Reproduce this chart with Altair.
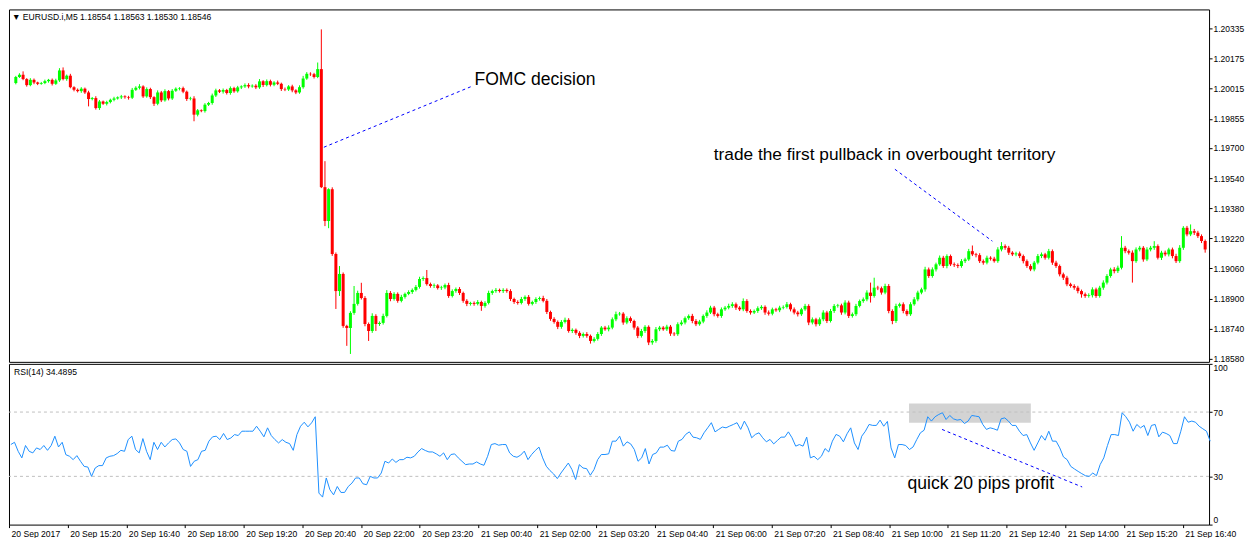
import altair as alt
import numpy as np
import pandas as pd

# ---------------- data ----------------
START = "2017-09-20 14:00"          # first M5 bar
BAR_MIN = 5
PRICE_BASE = 1.18000                 # prices below are in points (1e-5) above this base
OPEN_FIRST = 2045

CLOSE = [
    2077, 2089, 2066, 2034, 2062, 2048, 2041, 2045, 2055, 2062, 2041, 2059, 2112, 2066, 2084, 2023, 2009, 2002, 2015, 1995,
    1960, 1965, 1912, 1947, 1935, 1944, 1956, 1963, 1969, 1974, 1970, 1967, 2009, 2020, 2027, 1974, 2013, 1970, 1935, 1995,
    1953, 2002, 1963, 2004, 2015, 2018, 1999, 1960, 1963, 1877, 1900, 1896, 1930, 1939, 1979, 2006, 1999, 2008, 1992, 2018,
    2001, 2022, 2027, 2034, 2027, 2031, 2022, 2054, 2034, 2055, 2036, 2048, 2041, 2013, 2011, 2027, 2006, 1995, 2023, 2069,
    2094, 2092, 2077, 2119, 1492, 1312, 1481, 1137, 940, 1031, 755, 744, 824, 872, 930, 903, 765, 728, 808, 765,
    771, 808, 930, 898, 925, 888, 909, 925, 935, 946, 962, 1004, 1009, 977, 967, 970, 956, 959, 972, 914,
    940, 951, 930, 888, 872, 877, 872, 882, 861, 877, 930, 940, 946, 940, 946, 940, 898, 882, 877, 898,
    909, 872, 882, 898, 903, 888, 829, 792, 776, 750, 776, 787, 728, 734, 718, 702, 712, 702, 675, 686,
    712, 746, 737, 746, 790, 817, 820, 773, 796, 781, 746, 702, 728, 750, 667, 675, 737, 746, 737, 751,
    714, 711, 764, 773, 796, 808, 781, 764, 778, 808, 826, 852, 817, 808, 843, 852, 861, 870, 852, 843,
    887, 834, 826, 834, 849, 856, 826, 820, 843, 838, 852, 855, 870, 843, 826, 817, 843, 861, 773, 790,
    764, 790, 826, 781, 834, 861, 864, 826, 879, 808, 817, 861, 887, 896, 932, 914, 958, 955, 932, 967,
    834, 781, 861, 870, 834, 817, 870, 896, 932, 949, 1055, 1020, 1055, 1082, 1117, 1073, 1126, 1082, 1078, 1073,
    1099, 1108, 1152, 1135, 1131, 1099, 1091, 1117, 1112, 1099, 1161, 1179, 1170, 1144, 1135, 1140, 1126, 1099, 1073, 1055,
    1091, 1126, 1135, 1117, 1152, 1091, 1073, 1029, 1011, 976, 967, 958, 940, 923, 914, 918, 949, 914, 958, 985,
    1020, 1055, 1046, 1064, 1170, 1152, 1144, 1099, 1161, 1170, 1108, 1161, 1170, 1179, 1117, 1144, 1135, 1161, 1126, 1099,
    1170, 1276, 1241, 1258, 1250, 1232, 1206, 1161,
]

UPPER = [  # upper wick above the body, points
    6, 8, 18, 5, 9, 7, 4, 6, 8, 5, 7, 9, 12, 16, 6, 10, 5, 7, 8, 6,
    9, 6, 10, 8, 5, 7, 6, 9, 5, 8, 6, 7, 10, 8, 12, 6, 9, 7, 5, 11,
    8, 10, 6, 9, 7, 5, 8, 6, 9, 12, 7, 5, 8, 6, 10, 9, 7, 8, 6, 9,
    7, 8, 6, 9, 10, 7, 8, 12, 6, 9, 8, 7, 10, 6, 8, 7, 9, 6, 10, 14,
    9, 8, 7, 35, 211, 138, 5, 10, 8, 42, 8, 6, 9, 95, 12, 54, 10, 8, 14, 9,
    8, 12, 15, 10, 9, 8, 11, 7, 9, 8, 10, 12, 9, 43, 8, 10, 7, 9, 8, 12,
    9, 8, 10, 7, 9, 6, 8, 10, 7, 9, 12, 8, 10, 7, 9, 8, 10, 7, 9, 11,
    8, 10, 7, 9, 8, 12, 10, 7, 9, 8, 10, 12, 9, 8, 7, 9, 8, 10, 7, 9,
    10, 8, 9, 12, 10, 14, 9, 8, 10, 9, 7, 8, 11, 9, 8, 10, 12, 9, 8, 10,
    9, 8, 10, 12, 9, 8, 11, 10, 9, 8, 12, 10, 9, 8, 10, 9, 12, 11, 9, 8,
    14, 10, 9, 8, 10, 9, 8, 11, 9, 8, 10, 9, 12, 8, 10, 9, 8, 11, 9, 10,
    8, 10, 12, 9, 11, 10, 8, 9, 12, 10, 9, 11, 8, 10, 12, 53, 53, 10, 9, 12,
    10, 9, 12, 8, 10, 9, 11, 12, 10, 9, 14, 10, 11, 9, 12, 10, 9, 8, 10, 9,
    11, 9, 12, 30, 8, 10, 9, 11, 8, 10, 12, 21, 9, 10, 8, 9, 10, 8, 9, 10,
    9, 11, 10, 8, 12, 9, 10, 8, 9, 10, 8, 9, 10, 8, 9, 10, 11, 9, 10, 12,
    10, 9, 12, 11, 62, 10, 9, 12, 11, 10, 9, 12, 10, 26, 9, 10, 11, 9, 10, 12,
    14, 9, 10, 36, 12, 10, 9, 8,
]

LOWER = [  # lower wick below the body, points
    7, 5, 6, 8, 6, 9, 7, 5, 6, 8, 9, 6, 8, 7, 9, 6, 8, 7, 9, 8,
    39, 7, 8, 10, 6, 9, 7, 8, 6, 9, 8, 10, 7, 6, 9, 8, 7, 10, 12, 8,
    9, 7, 10, 8, 6, 9, 8, 10, 7, 35, 9, 6, 8, 7, 9, 8, 7, 10, 8, 9,
    8, 7, 9, 8, 10, 7, 9, 8, 10, 7, 9, 8, 7, 10, 9, 8, 10, 9, 7, 8,
    7, 9, 8, 6, 5, 27, 38, 10, 95, 26, 10, 95, 138, 10, 9, 8, 12, 53, 10, 37,
    10, 9, 8, 12, 9, 10, 8, 9, 7, 10, 8, 9, 10, 8, 9, 11, 8, 10, 9, 10,
    8, 9, 11, 10, 12, 9, 10, 8, 26, 9, 8, 10, 9, 8, 10, 9, 11, 10, 9, 8,
    10, 9, 8, 10, 9, 8, 11, 10, 9, 12, 10, 8, 9, 11, 10, 12, 9, 10, 14, 8,
    9, 10, 8, 11, 9, 10, 8, 12, 9, 10, 11, 12, 9, 10, 14, 12, 9, 10, 8, 9,
    12, 10, 9, 8, 10, 9, 12, 10, 8, 9, 10, 8, 11, 9, 10, 8, 9, 10, 12, 9,
    10, 9, 11, 8, 10, 9, 12, 10, 9, 8, 10, 9, 8, 11, 10, 12, 9, 8, 14, 10,
    12, 9, 10, 11, 8, 10, 9, 12, 10, 11, 9, 10, 8, 9, 10, 35, 9, 10, 11, 9,
    12, 17, 10, 9, 12, 10, 9, 8, 10, 9, 12, 10, 9, 11, 8, 10, 12, 9, 10, 11,
    9, 10, 8, 9, 12, 10, 11, 9, 10, 8, 9, 10, 11, 12, 9, 10, 11, 12, 10, 9,
    10, 9, 11, 10, 9, 12, 10, 11, 12, 10, 9, 11, 12, 18, 10, 9, 12, 10, 9, 11,
    10, 9, 12, 10, 9, 11, 10, 114, 9, 10, 12, 9, 10, 11, 9, 12, 10, 11, 12, 10,
    9, 11, 10, 9, 12, 10, 11, 17,
]

RSI = [
    49.8, 51.2, 45.6, 41.5, 49.2, 45.6, 44.6, 47.7, 46.7, 49.2, 46.2, 49.2, 55.0, 48.3, 51.2, 43.5, 42.5, 40.4, 42.9, 39.4,
    36.2, 35.8, 30.0, 35.2, 36.7, 36.7, 41.5, 42.5, 42.9, 44.2, 46.2, 45.6, 52.9, 55.0, 46.7, 44.6, 53.5, 45.6, 40.4, 51.2,
    46.7, 51.2, 48.3, 50.8, 52.9, 53.3, 50.8, 46.7, 45.6, 36.2, 39.4, 40.4, 45.6, 46.2, 51.9, 54.6, 55.0, 52.9, 56.7, 52.9,
    53.9, 56.0, 55.4, 58.1, 58.1, 58.1, 58.1, 61.2, 58.1, 54.6, 60.2, 55.4, 52.9, 50.8, 52.9, 51.2, 50.4, 46.2, 56.0, 61.2,
    63.7, 60.8, 63.3, 67.1, 19.6, 17.1, 29.0, 21.7, 18.5, 23.7, 20.0, 20.0, 23.7, 25.8, 29.0, 29.0, 25.4, 24.8, 30.0, 29.0,
    29.0, 32.1, 39.4, 38.3, 40.8, 38.7, 40.4, 40.4, 41.9, 41.5, 42.5, 45.2, 47.3, 46.1, 45.2, 45.2, 44.0, 42.5, 44.6, 40.4,
    43.6, 44.0, 41.5, 39.4, 37.3, 37.7, 37.7, 39.0, 37.7, 36.9, 42.5, 49.8, 50.4, 49.4, 49.8, 49.8, 44.6, 42.5, 41.9, 43.2,
    45.7, 40.4, 43.6, 46.1, 48.2, 41.5, 36.3, 33.6, 31.5, 28.6, 32.1, 35.2, 38.3, 34.2, 28.0, 37.3, 35.2, 34.8, 30.7, 34.2,
    40.4, 43.6, 43.6, 44.0, 51.9, 51.9, 55.0, 48.8, 51.5, 50.2, 46.7, 39.4, 41.5, 47.3, 37.7, 43.6, 44.6, 48.2, 48.2, 49.4,
    46.1, 45.7, 51.9, 53.0, 56.1, 57.7, 54.4, 54.0, 53.0, 57.1, 60.2, 63.4, 57.7, 59.2, 60.7, 60.2, 61.3, 62.3, 63.4, 59.2,
    64.4, 60.2, 54.0, 56.1, 57.1, 54.0, 51.5, 53.0, 50.2, 52.3, 54.4, 54.4, 57.7, 54.0, 48.8, 49.8, 48.8, 54.4, 41.5, 42.5,
    40.4, 42.5, 47.3, 45.2, 51.9, 56.1, 55.0, 51.5, 56.5, 60.2, 50.8, 46.7, 55.0, 58.1, 62.3, 61.7, 61.7, 65.0, 61.2, 64.2,
    47.7, 41.5, 49.8, 49.8, 49.2, 46.7, 48.3, 52.9, 57.1, 58.7, 67.1, 64.4, 67.1, 68.5, 69.6, 65.4, 67.9, 65.8, 65.0, 65.4,
    62.9, 64.4, 67.9, 67.5, 67.1, 62.3, 59.2, 60.2, 59.6, 58.7, 65.8, 66.4, 64.4, 61.7, 61.7, 58.1, 55.4, 56.0, 50.8, 46.2,
    50.8, 55.4, 52.5, 58.1, 51.9, 51.9, 47.7, 42.1, 40.4, 36.2, 34.6, 33.1, 31.7, 30.4, 30.0, 32.1, 30.4, 37.3, 41.5, 49.2,
    56.0, 56.0, 55.4, 69.6, 67.1, 63.7, 58.1, 62.3, 60.2, 61.7, 55.4, 61.7, 62.3, 54.6, 57.5, 56.7, 55.4, 50.4, 50.4, 58.1,
    67.1, 63.7, 64.4, 63.7, 61.2, 59.6, 58.1, 51.9,
]

PRICE_TICKS = [1.18580, 1.18740, 1.18900, 1.19060, 1.19220, 1.19380,
               1.19540, 1.19700, 1.19855, 1.20015, 1.20175, 1.20335]
PRICE_DOMAIN = [1.18564, 1.20436]
RSI_TICKS = [0, 30, 70, 100]
RSI_LEVELS = [30, 70]
TIME_DOMAIN = ["2017-09-20 14:00", "2017-09-21 17:16"]
TIME_TICKS = ["2017-09-20 14:00", "2017-09-20 15:20", "2017-09-20 16:40", "2017-09-20 18:00",
              "2017-09-20 19:20", "2017-09-20 20:40", "2017-09-20 22:00", "2017-09-20 23:20",
              "2017-09-21 00:40", "2017-09-21 02:00", "2017-09-21 03:20", "2017-09-21 04:40",
              "2017-09-21 06:00", "2017-09-21 07:20", "2017-09-21 08:40", "2017-09-21 10:00",
              "2017-09-21 11:20", "2017-09-21 12:40", "2017-09-21 14:00", "2017-09-21 15:20",
              "2017-09-21 16:40"]

HEADER = "\u25bc EURUSD.i,M5  1.18554 1.18563 1.18530 1.18546"
RSI_LABEL = "RSI(14) 34.4895"

NOTE_TEXT = ["FOMC decision", "trade the first pullback in overbought territory"]
NOTE_SIZE = [17.6, 17.3]
NOTE_T = ["2017-09-21T00:33", "2017-09-21T06:02"]
NOTE_P = [1.20059, 1.19662]
LINE_T1 = ["2017-09-20T21:06", "2017-09-21T10:11"]
LINE_T2 = ["2017-09-21T00:29", "2017-09-21T12:25"]
LINE_P1 = [1.19704, 1.19587]
LINE_P2 = [1.20027, 1.19205]

RSI_NOTE_TEXT = ["quick 20 pips profit"]
RSI_NOTE_T = ["2017-09-21T10:25"]
RSI_NOTE_V = [25.4]
RSI_LINE_T1 = ["2017-09-21T11:12"]
RSI_LINE_T2 = ["2017-09-21T14:23"]
RSI_LINE_V1 = [59.2]
RSI_LINE_V2 = [23.4]
BOX_T1 = ["2017-09-21T10:27"]
BOX_T2 = ["2017-09-21T13:13"]
BOX_V1 = [63.4]
BOX_V2 = [75.4]

assert len(CLOSE) == len(UPPER) == len(LOWER) == len(RSI)

# ---------------- tables ----------------
n = len(CLOSE)
times = pd.date_range(START, periods=n, freq=f"{BAR_MIN}min") + pd.Timedelta(seconds=150)
c = np.array(CLOSE, dtype=float)
o = np.r_[OPEN_FIRST, c[:-1]]
hi = np.maximum(o, c) + np.array(UPPER)
lo = np.minimum(o, c) - np.array(LOWER)
pt = 1e-5
bars = pd.DataFrame({
    "t": times.strftime("%Y-%m-%dT%H:%M:%S"),
    "open": PRICE_BASE + o * pt,
    "close": PRICE_BASE + c * pt,
    "high": PRICE_BASE + hi * pt,
    "low": PRICE_BASE + lo * pt,
    "dir": np.where(c >= o, "up", "down"),
    "rsi": RSI,
})
notes = pd.DataFrame({"text": NOTE_TEXT, "t": NOTE_T, "p": NOTE_P, "size": NOTE_SIZE})
lines = pd.DataFrame({"t1": LINE_T1, "t2": LINE_T2, "p1": LINE_P1, "p2": LINE_P2})
rnotes = pd.DataFrame({"text": RSI_NOTE_TEXT, "t": RSI_NOTE_T, "v": RSI_NOTE_V})
rlines = pd.DataFrame({"t1": RSI_LINE_T1, "t2": RSI_LINE_T2, "v1": RSI_LINE_V1, "v2": RSI_LINE_V2})
box = pd.DataFrame({"t1": BOX_T1, "t2": BOX_T2, "v1": BOX_V1, "v2": BOX_V2})
levels = pd.DataFrame({"level": RSI_LEVELS})
header = pd.DataFrame({"text": [HEADER]})
rsilab = pd.DataFrame({"text": [RSI_LABEL]})


def dt(s):
    ts = pd.Timestamp(s)
    return alt.DateTime(year=ts.year, month=ts.month, date=ts.day, hours=ts.hour, minutes=ts.minute)


FONT = "Liberation Sans"
W = 1202
xs = alt.Scale(domain=[dt(s) for s in TIME_DOMAIN], nice=False)
x_axis = alt.Axis(values=[dt(s) for s in TIME_TICKS], title=None,
                  labelExpr="timeFormat(datum.value, '%d %H:%M') == '20 14:00' ? '20 Sep 2017' : timeFormat(datum.value, '%d %b %H:%M')",
                  tickSize=3, tickColor="#000", labelAlign="left", labelBaseline="top",
                  labelPadding=2, labelOffset=2, labelFont=FONT, labelFontSize=8.6,
                  labelColor="#000", domain=False, grid=False, labelOverlap=False,
                  labelFlush=False, labelBound=False)

ps = alt.Scale(domain=PRICE_DOMAIN, nice=False, zero=False)
p_axis = alt.Axis(orient="right", values=PRICE_TICKS, format=".5f", title=None,
                  tickSize=3, tickColor="#000", labelColor="#000", labelFont=FONT,
                  labelFontSize=8.5, labelPadding=1, domain=False, grid=False, labelOverlap=False)
rs = alt.Scale(domain=[0, 100], nice=False, zero=False)
r_axis = alt.Axis(orient="right", values=RSI_TICKS, format="d", title=None,
                  tickSize=3, tickColor="#000", labelColor="#000", labelFont=FONT,
                  labelFontSize=8.5, labelPadding=1, domain=False, grid=False,
                  labelFlush=True, labelOverlap=False)
col = alt.Color("dir:N", scale=alt.Scale(domain=["up", "down"], range=["#00ff00", "#ff0000"]), legend=None)

# ---------------- price panel ----------------
wicks = alt.Chart(bars).mark_rule(strokeWidth=1).encode(
    x=alt.X("t:T", scale=xs, axis=None),
    y=alt.Y("low:Q", scale=ps, axis=p_axis),
    y2="high:Q", color=col)
bodies = alt.Chart(bars).mark_bar(size=3).encode(
    x=alt.X("t:T", scale=xs, axis=None),
    y=alt.Y("open:Q", scale=ps, axis=p_axis),
    y2="close:Q", color=col)
plines = alt.Chart(lines).mark_rule(color="#0000ff", strokeWidth=1, strokeDash=[3, 3]).encode(
    x=alt.X("t1:T", scale=xs, axis=None), x2="t2:T",
    y=alt.Y("p1:Q", scale=ps, axis=p_axis), y2="p2:Q")
ptext = alt.Chart(notes).mark_text(align="left", baseline="middle", font=FONT, color="#000").encode(
    x=alt.X("t:T", scale=xs, axis=None),
    y=alt.Y("p:Q", scale=ps, axis=p_axis), text="text:N",
    size=alt.Size("size:Q", scale=None, legend=None))
htext = alt.Chart(header).mark_text(align="left", baseline="middle", font=FONT, fontSize=8.6, color="#000").encode(
    x=alt.value(3), y=alt.value(8), text="text:N")

price = alt.layer(wicks, bodies, plines, ptext, htext).properties(width=W, height=353)

# ---------------- RSI panel ----------------
rbox = alt.Chart(box).mark_rect(color="#d3d3d3").encode(
    x=alt.X("t1:T", scale=xs, axis=x_axis), x2="t2:T",
    y=alt.Y("v1:Q", scale=rs, axis=r_axis), y2="v2:Q")
rlev = alt.Chart(levels).mark_rule(color="#c0c0c0", strokeWidth=1, strokeDash=[3, 3]).encode(
    y=alt.Y("level:Q", scale=rs, axis=r_axis))
rline = alt.Chart(bars).mark_line(color="#1e90ff", strokeWidth=1).encode(
    x=alt.X("t:T", scale=xs, axis=x_axis),
    y=alt.Y("rsi:Q", scale=rs, axis=r_axis))
rdash = alt.Chart(rlines).mark_rule(color="#0000ff", strokeWidth=1, strokeDash=[3, 3]).encode(
    x=alt.X("t1:T", scale=xs, axis=x_axis), x2="t2:T",
    y=alt.Y("v1:Q", scale=rs, axis=r_axis), y2="v2:Q")
rtext = alt.Chart(rnotes).mark_text(align="left", baseline="middle", font=FONT, fontSize=17.6, color="#000").encode(
    x=alt.X("t:T", scale=xs, axis=x_axis),
    y=alt.Y("v:Q", scale=rs, axis=r_axis), text="text:N")
rlab = alt.Chart(rsilab).mark_text(align="left", baseline="middle", font=FONT, fontSize=8.6, color="#000").encode(
    x=alt.value(5), y=alt.value(8), text="text:N")

rsi = alt.layer(rbox, rlev, rline, rdash, rtext, rlab).properties(width=W, height=161)

chart = alt.vconcat(price, rsi, spacing=2, bounds="flush").properties(
    padding={"left": 0, "top": 0, "right": 0, "bottom": 0},
    background="white",
).configure_view(stroke="#000000", strokeWidth=1)

chart.save("out.html", embed_options={"renderer": "svg", "actions": False})
